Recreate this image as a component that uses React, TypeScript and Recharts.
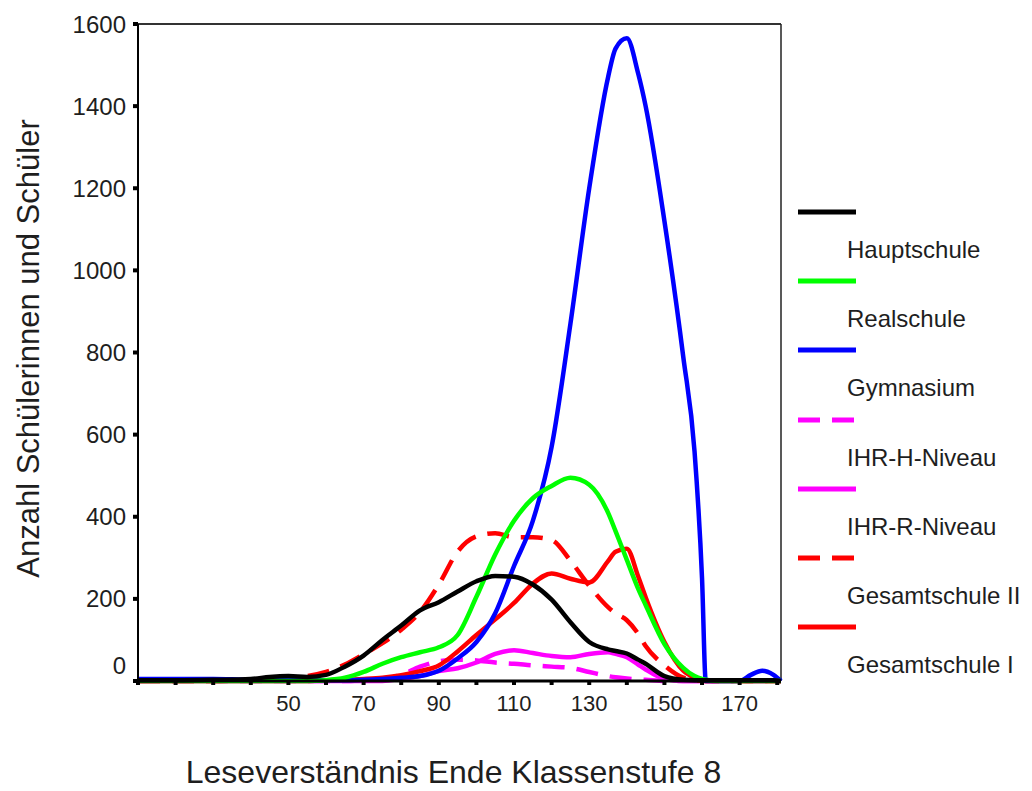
import React from 'react';
import { LineChart, Line, XAxis, YAxis, ReferenceLine, Label } from 'recharts';

// Leseverständnis scores (x) and pupil counts per school type (y)
const scores = [10, 20, 30, 40, 45, 50, 55, 60, 65, 70, 75, 80, 85, 90, 95, 100, 105, 110, 115, 120, 125, 130, 135, 137, 140, 143, 145, 150, 155, 158, 160, 161, 165, 170, 173, 176, 179, 181];

const hauptschule = [2, 2, 3, 5, 10, 12, 10, 15, 35, 62, 100, 135, 172, 192, 218, 243, 256, 254, 235, 198, 143, 95, 77, 73, 67, 52, 42, 12, 3, 2, 2, 2, 2, 2, 2, 2, 2, 0];
const realschule = [0, 0, 0, 0, 0, 0, 0, 2, 8, 22, 42, 58, 70, 82, 112, 205, 308, 390, 445, 475, 495, 478, 410, 365, 295, 225, 185, 90, 32, 12, 5, 3, 0, 0, 0, 0, 0, 0];
const gymnasium = [5, 5, 5, 3, 3, 2, 2, 2, 2, 3, 5, 8, 12, 25, 55, 95, 165, 280, 390, 570, 870, 1200, 1470, 1540, 1565, 1480, 1400, 1120, 790, 560, 250, 0, 0, 0, 15, 25, 15, 0];
const ihrH = [0, 0, 0, 0, 0, 0, 0, 0, 0, 2, 5, 15, 35, 48, 52, 50, 45, 42, 38, 35, 32, 22, 12, 9, 6, 4, 3, 0, 0, 0, 0, 0, 0, 0, 0, 0, 0, 0];
const ihrR = [0, 0, 0, 0, 0, 0, 0, 0, 0, 0, 0, 5, 12, 24, 31, 45, 66, 75, 68, 61, 58, 66, 70, 66, 58, 40, 28, 5, 0, 0, 0, 0, 0, 0, 0, 0, 0, 0];
const gesamtII = [0, 0, 0, 3, 5, 8, 12, 22, 40, 65, 92, 125, 168, 235, 315, 352, 360, 350, 350, 343, 293, 232, 180, 165, 148, 115, 85, 38, 8, 2, 0, 0, 0, 0, 0, 0, 0, 0];
const gesamtI = [0, 0, 0, 0, 0, 0, 0, 2, 3, 5, 8, 14, 24, 38, 72, 112, 150, 190, 237, 262, 249, 240, 292, 315, 322, 255, 204, 95, 25, 8, 2, 0, 0, 0, 0, 0, 0, 0];

const xTicks = [10, 20, 30, 40, 50, 60, 70, 80, 90, 100, 110, 120, 130, 140, 150, 160, 170, 180];
const xLabelled = [50, 70, 90, 110, 130, 150, 170];
const yTicks = [0, 200, 400, 600, 800, 1000, 1200, 1400, 1600];

const data = scores.map((x, i) => ({
  x,
  hauptschule: hauptschule[i],
  realschule: realschule[i],
  gymnasium: gymnasium[i],
  ihrH: ihrH[i],
  ihrR: ihrR[i],
  gesamtII: gesamtII[i],
  gesamtI: gesamtI[i],
}));

// legend order (top to bottom)
const series = [
  { key: 'hauptschule', name: 'Hauptschule', color: '#000000', dash: undefined },
  { key: 'realschule', name: 'Realschule', color: '#00ff00', dash: undefined },
  { key: 'gymnasium', name: 'Gymnasium', color: '#0000ff', dash: undefined },
  { key: 'ihrH', name: 'IHR-H-Niveau', color: '#ff00ff', dash: '22 12' },
  { key: 'ihrR', name: 'IHR-R-Niveau', color: '#ff00ff', dash: undefined },
  { key: 'gesamtII', name: 'Gesamtschule II', color: '#ff0000', dash: '22 12' },
  { key: 'gesamtI', name: 'Gesamtschule I', color: '#ff0000', dash: undefined },
];

// drawing order (back to front)
const drawOrder = ['ihrH', 'ihrR', 'gesamtI', 'gesamtII', 'gymnasium', 'realschule', 'hauptschule'];

const FONT = '"Liberation Sans", Arial, sans-serif';
const TEXT = '#1e1e1e';

const YTick = ({ x, y, payload }: any) => (
  <text
    x={x}
    y={payload.value === 0 ? y - 16 : y}
    dy="0.355em"
    textAnchor="end"
    fill={TEXT}
    fontSize={24}
    fontFamily={FONT}
  >
    {payload.value}
  </text>
);

const Legend = () => (
  <div style={{ position: 'absolute', left: 0, top: 0, width: 1032, height: 791, pointerEvents: 'none' }}>
    {series.map((s, i) => (
      <React.Fragment key={s.key}>
        <svg
          width={60}
          height={8}
          style={{ position: 'absolute', left: 797, top: 208 + i * 69.2 }}
        >
          <line x1={1} y1={4} x2={59} y2={4} stroke={s.color} strokeWidth={5} strokeDasharray={s.dash} />
        </svg>
        <div
          style={{
            position: 'absolute',
            left: 847,
            top: 250 + i * 69.2 - 14,
            fontSize: 24,
            lineHeight: '28px',
            fontFamily: FONT,
            color: TEXT,
            whiteSpace: 'nowrap',
          }}
        >
          {s.name}
        </div>
      </React.Fragment>
    ))}
  </div>
);

export default function App() {
  return (
    <div style={{ position: 'absolute', left: 0, top: 0, width: 1032, height: 791, background: '#fff' }}>
      <LineChart
        width={1032}
        height={791}
        data={data}
        margin={{ top: 24, right: 251, bottom: 0, left: 0 }}
      >
        <XAxis
          dataKey="x"
          type="number"
          domain={[10, 181]}
          ticks={xTicks}
          tickFormatter={(v: number) => (xLabelled.includes(v) ? String(v) : '')}
          interval={0}
          height={110}
          axisLine={{ stroke: '#000', strokeWidth: 3 }}
          tickLine={{ stroke: '#000', strokeWidth: 4 }}
          tickSize={4}
          tickMargin={10}
          tick={{ fill: TEXT, fontSize: 22, fontFamily: FONT }}
        >
          <Label
            value="Leseverständnis Ende Klassenstufe 8"
            position="insideBottom"
            offset={8}
            dx={-6}
            fill={TEXT}
            fontSize={32}
            fontFamily={FONT}
          />
        </XAxis>
        <YAxis
          type="number"
          domain={[0, 1600]}
          ticks={yTicks}
          interval={0}
          width={138}
          axisLine={{ stroke: '#000', strokeWidth: 2 }}
          tickLine={{ stroke: '#000', strokeWidth: 4 }}
          tickSize={5}
          tickMargin={7}
          tick={<YTick />}
        >
          <Label
            value="Anzahl Schülerinnen und Schüler"
            angle={-90}
            position="insideLeft"
            offset={28}
            dy={-4}
            fill={TEXT}
            fontSize={31}
            fontFamily={FONT}
            style={{ textAnchor: 'middle' }}
          />
        </YAxis>
        <ReferenceLine y={1600} stroke="#333" strokeWidth={2} ifOverflow="visible" />
        <ReferenceLine x={181} stroke="#222" strokeWidth={1.5} ifOverflow="visible" />
        {drawOrder.map((k) => {
          const s = series.find((d) => d.key === k)!;
          return (
            <Line
              key={s.key}
              dataKey={s.key}
              name={s.name}
              type="monotone"
              stroke={s.color}
              strokeWidth={4.5}
              strokeDasharray={s.dash}
              dot={false}
              activeDot={false}
              isAnimationActive={false}
            />
          );
        })}
      </LineChart>
      <Legend />
    </div>
  );
}
